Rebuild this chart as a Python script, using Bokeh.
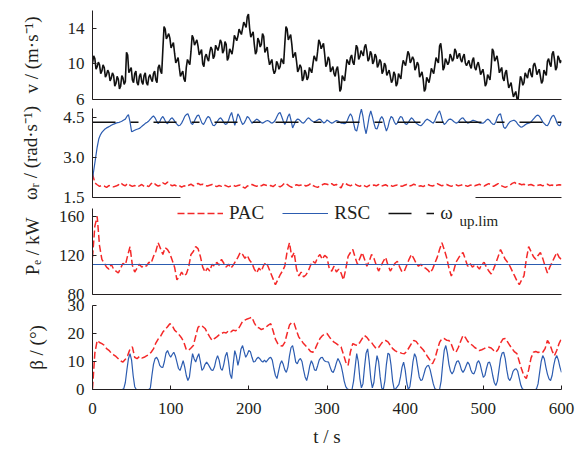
from bokeh.plotting import figure
from bokeh.models import Range1d, FixedTicker, LinearAxis, Legend, LegendItem, Label, NumeralTickFormatter
from bokeh.layouts import column
from bokeh.embed import file_html
from bokeh.resources import INLINE

# ---------------- data ----------------
# wind speed v (m/s), sampled every 1.5 s
v_wind = [
    10.1, 10.9, 10.6, 9.4, 9.7, 10.2, 9.9, 8.9, 9.2, 9.9, 9.6, 8.5, 8.8, 9.3, 9.0, 8.1, 8.4, 9.0, 8.7, 7.5,
    7.8, 8.6, 8.3, 7.2, 7.5, 8.7, 8.4, 7.7, 8.0, 11.3, 11.0, 9.0, 9.3, 9.6, 8.2, 7.9, 8.9, 9.2, 7.9, 7.6,
    8.6, 8.9, 8.0, 7.7, 8.7, 9.0, 7.9, 7.6, 8.5, 8.8, 8.3, 8.0, 8.9, 9.2, 8.2, 7.9, 9.6, 9.9, 9.2, 8.9,
    11.6, 14.2, 13.9, 12.8, 13.1, 13.4, 12.9, 11.8, 12.1, 12.4, 11.2, 10.1, 10.4, 10.7, 9.6, 8.6, 8.9, 9.2, 8.3, 8.0,
    9.6, 10.5, 10.2, 9.9, 11.4, 13.2, 12.9, 12.1, 12.4, 12.7, 12.0, 11.0, 11.3, 11.6, 10.0, 9.7, 10.8, 11.1, 10.6, 10.3,
    11.3, 11.9, 11.6, 10.6, 10.9, 12.1, 11.8, 11.5, 12.0, 12.7, 12.4, 11.2, 11.5, 12.5, 12.2, 10.4, 10.7, 11.7, 11.4, 11.1,
    12.0, 13.2, 12.9, 12.6, 13.1, 13.9, 13.6, 13.3, 14.0, 14.7, 14.4, 14.1, 15.3, 15.6, 14.0, 13.0, 13.3, 13.6, 12.2, 11.1,
    11.4, 12.9, 12.6, 11.9, 12.2, 13.4, 13.1, 11.3, 11.6, 11.9, 10.7, 9.9, 10.2, 10.5, 9.4, 8.9, 9.2, 10.3, 10.0, 9.4,
    9.7, 10.6, 10.3, 10.0, 12.2, 14.2, 13.9, 12.7, 13.0, 13.3, 12.2, 10.7, 11.0, 11.3, 10.3, 9.1, 9.4, 9.9, 9.6, 8.1,
    8.4, 9.3, 9.0, 8.2, 8.5, 9.6, 9.3, 9.0, 10.0, 10.9, 10.6, 10.3, 11.4, 12.7, 12.4, 11.7, 12.0, 12.3, 11.1, 9.7,
    10.0, 10.8, 10.5, 9.1, 9.4, 9.7, 8.9, 8.6, 9.4, 9.7, 8.6, 6.9, 7.2, 8.7, 8.4, 8.1, 9.3, 10.5, 10.2, 9.9,
    10.7, 11.0, 10.2, 9.9, 11.0, 12.1, 11.8, 10.5, 10.8, 11.5, 11.2, 10.9, 11.9, 12.2, 11.4, 10.3, 10.6, 11.4, 11.1, 10.0,
    10.3, 11.1, 10.8, 9.6, 9.9, 10.5, 10.2, 8.9, 9.2, 10.1, 9.8, 8.7, 9.0, 9.3, 8.6, 7.9, 8.2, 9.1, 8.8, 7.5,
    7.8, 8.9, 8.6, 8.3, 9.6, 10.4, 10.1, 9.8, 10.6, 11.4, 11.1, 10.1, 10.4, 10.8, 10.5, 9.3, 9.6, 10.2, 9.9, 8.5,
    8.8, 9.1, 8.3, 6.9, 7.2, 8.5, 8.2, 7.9, 8.6, 9.5, 9.2, 8.9, 9.8, 10.7, 10.4, 10.1, 12.0, 12.3, 11.2, 9.3,
    9.6, 10.6, 10.3, 9.9, 10.2, 11.1, 10.8, 10.3, 10.6, 11.7, 11.4, 10.6, 10.9, 11.2, 10.5, 10.2, 10.8, 11.1, 10.1, 9.8,
    10.1, 10.4, 9.8, 9.5, 10.4, 10.7, 9.6, 9.3, 9.9, 10.2, 9.6, 8.8, 9.1, 9.4, 8.6, 7.5, 7.8, 8.8, 8.5, 8.2,
    9.6, 11.7, 11.4, 10.3, 10.6, 10.9, 10.1, 9.0, 9.3, 9.6, 8.4, 8.1, 9.0, 9.3, 8.2, 7.3, 7.6, 7.9, 7.0, 6.3,
    6.6, 6.9, 6.1, 6.0, 7.4, 8.6, 8.3, 7.6, 7.9, 9.0, 8.7, 8.4, 9.2, 9.5, 8.8, 8.5, 9.8, 10.1, 9.6, 8.8,
    9.1, 9.4, 8.6, 7.8, 8.1, 9.3, 9.0, 8.7, 10.3, 10.6, 10.0, 9.7, 11.1, 11.4, 10.5, 9.3, 9.6, 10.9, 10.6, 10.1,
    10.4,
]
t_wind = [1.5 * i for i in range(len(v_wind))]

# rotor speed, PAC (every 3 s)
w_pac = [
    2.40, 2.05, 1.98, 1.92, 1.95, 1.93, 1.88, 1.95, 1.92, 1.90,
    1.93, 1.97, 2.05, 1.98, 1.94, 2.03, 1.96, 1.92, 1.95, 1.90,
    1.94, 1.99, 1.92, 1.95, 1.91, 2.02, 2.07, 1.98, 1.93, 1.96,
    2.05, 2.00, 2.08, 1.99, 1.94, 1.97, 1.92, 1.95, 1.89, 1.94,
    1.91, 1.96, 2.00, 1.94, 1.97, 2.03, 1.98, 2.00, 1.95, 1.93,
    1.96, 1.99, 1.94, 1.91, 1.95, 1.92, 1.97, 1.94, 1.90, 1.93,
    1.96, 1.92, 1.95, 1.97, 1.90, 1.85, 1.93, 1.96, 1.99, 1.95,
    1.92, 1.97, 1.94, 1.99, 1.96, 1.93, 1.95, 1.91, 1.98, 1.94,
    1.90, 1.96, 2.05, 1.99, 1.93, 1.88, 1.94, 1.98, 1.95, 1.97,
    1.99, 1.93, 1.96, 2.02, 1.95, 1.91, 1.88, 1.94, 1.98, 2.02,
    2.00, 1.97, 2.02, 1.96, 1.99, 1.93, 1.86, 2.05, 2.02, 1.97,
    1.94, 1.99, 2.00, 1.95, 1.92, 1.98, 1.94, 1.90, 1.96, 1.93,
    1.97, 1.94, 1.99, 1.92, 1.95, 1.98, 1.93, 1.96, 1.92, 1.95,
    1.97, 1.94, 1.92, 1.96, 1.99, 1.93, 1.95, 2.00, 1.96, 1.92,
    1.94, 1.91, 1.96, 1.99, 1.95, 1.93, 1.97, 2.02, 1.98, 1.94,
    1.97, 1.99, 1.95, 1.92, 1.96, 1.98, 1.94, 1.96, 1.99, 1.95,
    1.92, 1.96, 1.98, 1.94, 1.97, 2.00, 1.95, 1.93, 1.98, 2.02,
    1.96, 1.92, 1.97, 2.02, 1.96, 1.92, 1.88, 1.92, 1.96, 2.03,
    2.07, 1.99, 2.02, 1.98, 2.00, 1.95, 1.97, 1.99, 1.95, 1.93,
    1.96, 1.98, 1.94, 1.97, 2.00, 1.95, 1.97, 1.93, 1.96, 1.98,
    1.97,
]
t_w_pac = [3 * i for i in range(len(w_pac))]

# rotor speed, RSC (every 2 s)
w_rsc = [
    2.20, 2.60, 3.00, 3.40, 3.70, 3.85, 3.95, 4.02, 4.08, 4.12,
    4.15, 4.18, 4.22, 4.25, 4.27, 4.30, 4.32, 4.33, 4.35, 4.38,
    4.42, 4.45, 4.55, 4.62, 4.35, 3.98, 4.00, 4.03, 4.06, 4.08,
    4.10, 4.15, 4.20, 4.25, 4.30, 4.33, 4.38, 4.45, 4.52, 4.57,
    4.50, 4.38, 4.28, 4.35, 4.48, 4.55, 4.45, 4.32, 4.28, 4.38,
    4.46, 4.50, 4.42, 4.33, 4.26, 4.20, 4.22, 4.30, 4.42, 4.55,
    4.62, 4.65, 4.50, 4.30, 4.25, 4.35, 4.48, 4.58, 4.60, 4.45,
    4.30, 4.25, 4.35, 4.48, 4.55, 4.50, 4.35, 4.22, 4.20, 4.28,
    4.38, 4.46, 4.50, 4.42, 4.32, 4.25, 4.28, 4.40, 4.58, 4.70,
    4.45, 4.22, 4.40, 4.65, 4.55, 4.38, 4.25, 4.30, 4.42, 4.55,
    4.50, 4.40, 4.30, 4.33, 4.40, 4.45, 4.42, 4.36, 4.32, 4.30,
    4.34, 4.38, 4.40, 4.37, 4.32, 4.30, 4.34, 4.42, 4.55, 4.66,
    4.70, 4.55, 4.38, 4.25, 4.35, 4.55, 4.65, 4.40, 4.12, 4.25,
    4.38, 4.45, 4.44, 4.38, 4.32, 4.30, 4.36, 4.44, 4.50, 4.46,
    4.40, 4.36, 4.35, 4.38, 4.42, 4.45, 4.43, 4.36, 4.30, 4.34,
    4.42, 4.38, 4.33, 4.30, 4.32, 4.36, 4.40, 4.38, 4.34, 4.30,
    4.30, 4.28, 4.30, 4.40, 4.55, 4.65, 4.55, 4.30, 4.05, 4.00,
    4.25, 4.60, 4.83, 4.55, 4.15, 3.90, 4.20, 4.55, 4.76, 4.55,
    4.30, 4.10, 4.08, 4.25, 4.45, 4.55, 4.45, 4.20, 4.00, 4.15,
    4.40, 4.55, 4.50, 4.35, 4.25, 4.30, 4.45, 4.55, 4.52, 4.38,
    4.28, 4.25, 4.32, 4.42, 4.50, 4.45, 4.36, 4.30, 4.26, 4.22,
    4.20, 4.25, 4.32, 4.40, 4.45, 4.42, 4.38, 4.33, 4.30, 4.40,
    4.55, 4.68, 4.76, 4.58, 4.35, 4.25, 4.30, 4.38, 4.44, 4.45,
    4.42, 4.36, 4.32, 4.30, 4.34, 4.42, 4.48, 4.50, 4.42, 4.35,
    4.30, 4.32, 4.36, 4.40, 4.40, 4.38, 4.35, 4.32, 4.30, 4.30,
    4.30, 4.35, 4.42, 4.45, 4.40, 4.32, 4.26, 4.25, 4.35, 4.52,
    4.62, 4.65, 4.40, 4.15, 4.10, 4.18, 4.28, 4.35, 4.38, 4.40,
    4.40, 4.35, 4.26, 4.20, 4.15, 4.16, 4.20, 4.25, 4.28, 4.30,
    4.32, 4.38, 4.45, 4.52, 4.58, 4.60, 4.55, 4.45, 4.35, 4.28,
    4.22, 4.20, 4.30, 4.45, 4.56, 4.60, 4.48, 4.32, 4.22, 4.20,
    4.35,
]
t_w_rsc = [2 * i for i in range(len(w_rsc))]

# upper rotor-speed limit
t_lim = [0, 600]
w_lim = [4.33, 4.33]

# electrical power, PAC (every 3 s)
pe_pac = [
    118, 150, 160, 130, 116, 112, 108, 106, 111, 106,
    104, 102, 107, 112, 110, 120, 129, 110, 103, 107,
    111, 108, 110, 109, 113, 112, 119, 124, 133, 127,
    121, 128, 126, 122, 115, 108, 95, 98, 103, 99,
    101, 108, 121, 124, 129, 127, 119, 108, 103, 107,
    104, 111, 109, 113, 110, 116, 112, 108, 111, 107,
    110, 114, 118, 123, 121, 117, 120, 115, 112, 106,
    102, 107, 104, 110, 113, 108, 102, 96, 90, 95,
    100, 104, 109, 124, 133, 118, 123, 106, 99, 103,
    98, 100, 104, 110, 114, 112, 118, 121, 116, 120,
    118, 106, 104, 109, 103, 106, 102, 95, 106, 119,
    123, 126, 118, 111, 117, 123, 116, 109, 114, 121,
    117, 110, 104, 109, 114, 118, 110, 104, 108, 112,
    114, 108, 103, 104, 110, 116, 121, 117, 112, 109,
    111, 108, 107, 105, 102, 106, 112, 118, 126, 133,
    126, 118, 107, 99, 104, 113, 117, 121, 123, 116,
    109, 112, 108, 110, 109, 106, 111, 113, 108, 104,
    101, 106, 112, 119, 126, 121, 116, 113, 109, 104,
    99, 94, 90, 95, 99, 116, 129, 124, 119, 116,
    120, 123, 117, 109, 102, 108, 113, 118, 123, 118,
    116,
]
t_pe_pac = [3 * i for i in range(len(pe_pac))]

# electrical power, RSC (constant)
t_pe_rsc = [0, 600]
pe_rsc = [110.7, 110.7]

# pitch angle, PAC (every 3 s)
b_pac = [
    0.3, 13.0, 17.5, 16.8, 16.4, 15.8, 14.6, 14.0, 13.0, 12.4,
    11.8, 11.0, 10.2, 9.8, 10.8, 12.1, 14.5, 15.2, 11.5, 11.0,
    11.8, 11.2, 11.5, 12.0, 12.4, 13.3, 14.5, 16.6, 18.0, 19.0,
    20.5, 21.5, 22.4, 23.5, 22.8, 21.2, 20.4, 19.5, 18.4, 16.8,
    14.2, 14.0, 14.8, 15.7, 19.0, 22.2, 22.9, 22.5, 21.8, 20.2,
    18.8, 17.5, 18.2, 18.8, 19.5, 20.0, 20.4, 20.2, 21.0, 20.6,
    21.2, 21.0, 21.4, 22.8, 24.3, 24.8, 25.2, 25.5, 25.8, 23.8,
    22.3, 22.0, 21.4, 21.8, 22.3, 23.0, 23.5, 21.0, 18.0, 16.4,
    15.7, 15.5, 16.8, 20.0, 23.0, 24.0, 23.6, 21.0, 18.7, 17.6,
    16.4, 15.5, 14.6, 13.6, 13.3, 14.6, 16.5, 18.2, 19.2, 19.8,
    20.0, 18.8, 17.6, 16.9, 16.4, 15.7, 15.2, 12.6, 9.8, 8.6,
    13.5, 16.4, 16.0, 15.7, 16.8, 18.2, 19.3, 18.6, 17.5, 16.8,
    15.6, 14.6, 15.0, 16.2, 17.3, 17.5, 17.0, 15.8, 14.6, 13.9,
    13.4, 13.2, 12.9, 12.8, 13.6, 15.0, 16.4, 17.5, 17.2, 16.0,
    15.1, 14.2, 13.0, 11.6, 10.4, 9.2, 11.0, 14.0, 16.8, 18.2,
    18.2, 17.6, 17.5, 16.2, 14.0, 13.3, 15.0, 17.2, 19.3, 18.6,
    17.2, 16.4, 15.8, 15.0, 14.5, 13.9, 14.2, 14.6, 15.0, 15.1,
    14.8, 14.0, 13.3, 14.4, 16.6, 18.0, 18.2, 17.0, 15.7, 14.5,
    13.4, 12.8, 10.0, 7.2, 4.8, 3.9, 7.0, 11.2, 13.3, 13.6,
    13.2, 13.5, 13.3, 14.6, 17.5, 16.2, 13.8, 12.1, 14.0, 16.5,
    18.2,
]
t_b_pac = [3 * i for i in range(len(b_pac))]

# pitch angle, RSC (every 2 s)
b_rsc = [
    0, 0, 0, 0, 0, 0, 0, 0, 0, 0,
    0, 0, 0, 0, 0, 0, 0, 0, 0, 0,
    0.3, 2.5, 7.0, 11.0, 12.8, 10.5, 5.0, 1.0, 0, 0,
    0, 0, 0, 0, 0, 0, 0, 0.5, 5.0, 9.0,
    11.0, 11.5, 10.5, 8.6, 8.0, 7.9, 10.0, 13.0, 13.9, 12.5,
    11.5, 12.5, 13.3, 12.0, 9.8, 7.5, 6.8, 8.5, 10.3, 8.0,
    5.0, 3.2, 4.5, 9.0, 12.8, 11.0, 9.8, 11.5, 12.8, 10.0,
    6.8, 7.5, 9.0, 9.8, 9.0, 8.0, 7.0, 6.8, 8.0, 10.5,
    12.1, 10.5, 7.5, 6.8, 9.0, 12.0, 13.3, 10.0, 5.5, 3.9,
    9.0, 13.9, 12.0, 8.6, 11.0, 14.5, 15.7, 13.5, 11.5, 12.5,
    13.9, 13.5, 11.5, 9.8, 10.0, 11.0, 11.5, 11.0, 10.2, 9.8,
    10.5, 9.8, 10.5, 11.2, 11.5, 10.5, 7.5, 5.0, 3.9, 6.5,
    9.0, 10.3, 9.0, 7.0, 6.1, 8.0, 12.0, 15.0, 15.7, 13.0,
    9.8, 9.2, 10.5, 11.1, 10.0, 7.0, 4.5, 3.2, 5.5, 8.5,
    10.3, 9.0, 7.0, 6.8, 8.5, 10.5, 11.3, 11.5, 10.5, 10.0,
    9.9, 9.8, 8.0, 6.5, 6.1, 7.5, 9.5, 11.1, 10.0, 8.6,
    6.0, 3.0, 1.0, 0.2, 0, 0, 0, 3.0, 8.0, 12.8,
    10.0, 4.0, 0.6, 2.0, 8.0, 13.0, 14.5, 10.0, 4.0, 0.6,
    2.5, 8.0, 12.1, 10.0, 4.5, 0.5, 0, 3.0, 9.0, 13.0,
    12.5, 8.5, 3.0, 0, 0.3, 1.0, 1.8, 4.5, 8.0, 9.8,
    7.0, 2.5, 0, 1.0, 5.0, 10.0, 12.8, 11.5, 8.0, 4.5,
    3.2, 3.5, 5.5, 7.5, 8.4, 8.6, 7.0, 4.5, 2.0, 0.3,
    0, 0, 0, 3.0, 9.0, 14.0, 15.7, 13.0, 9.0, 6.5,
    5.6, 6.5, 8.5, 10.0, 10.3, 9.0, 7.0, 6.1, 7.0, 8.5,
    9.8, 9.0, 7.0, 5.8, 5.6, 7.0, 9.5, 10.3, 9.0, 6.5,
    4.3, 5.0, 7.5, 9.5, 9.8, 8.0, 5.0, 2.5, 1.4, 3.0,
    7.0, 11.0, 13.0, 13.3, 11.0, 7.0, 4.0, 3.2, 4.5, 6.5,
    7.2, 7.4, 6.5, 4.0, 1.5, 0.2, 0, 0, 0, 0,
    0, 0, 0, 0, 0.2, 2.0, 6.0, 10.0, 12.1, 11.0,
    8.0, 5.5, 3.8, 3.2, 5.0, 8.5, 11.0, 12.1, 10.5, 8.0,
    6.1,
]
t_b_rsc = [2 * i for i in range(len(b_rsc))]

x_ticks = [0, 100, 200, 300, 400, 500, 600]
v_ticks = [6, 10, 14]
w_ticks = [1.5, 3.0, 4.5]
pe_ticks = [80, 120, 160]
b_ticks = [0, 10, 20, 30]

# ---------------- styling ----------------
RED = "#f42828"
BLUE = "#2c5cb0"
BLACK = "#111111"
AXC = "#231f20"
FONT = "Liberation Serif"
W = 580
LEFT = 92
RIGHT = 19


def style_y(p, ticks, label, standoff):
    ax = p.yaxis[0]
    ax.ticker = FixedTicker(ticks=ticks)
    ax.major_tick_in = 4
    ax.major_tick_out = 0
    ax.minor_tick_line_color = None
    ax.axis_line_color = AXC
    ax.major_tick_line_color = AXC
    ax.major_label_text_font = FONT
    ax.major_label_text_font_size = "17px"
    ax.major_label_text_color = AXC
    ax.major_label_standoff = 8
    ax.axis_label = label
    ax.axis_label_text_font = FONT
    ax.axis_label_text_font_size = "19px"
    ax.axis_label_text_font_style = "normal"
    ax.axis_label_text_color = AXC
    ax.axis_label_standoff = standoff


def plain_x(ax):
    ax.ticker = FixedTicker(ticks=[])
    ax.minor_tick_line_color = None
    ax.major_tick_out = 0
    ax.major_tick_in = 0
    ax.major_label_standoff = 0
    ax.axis_line_color = AXC


def make_fig(h, top, bottom, yr, shift):
    p = figure(width=W, height=h, output_backend="svg", toolbar_location=None,
               title=None, x_range=Range1d(0, 600), y_range=Range1d(*yr),
               min_border_left=LEFT, min_border_right=RIGHT,
               min_border_top=top, min_border_bottom=bottom,
               margin=(shift, 0, 0, 0))
    p.xgrid.visible = False
    p.ygrid.visible = False
    p.outline_line_color = None
    p.background_fill_alpha = 0
    p.border_fill_alpha = 0
    return p


# panel 1: wind speed  (frame 10..99)
p1 = make_fig(113, 10, 14, (6, 16), 0)
p1.line(t_wind, v_wind, line_color=BLACK, line_width=1.6)
style_y(p1, v_ticks, "v / (m·s⁻¹)", 23)
plain_x(p1.xaxis[0])

# panel 2: rotor speed  (frame 108..197)
p2 = make_fig(117, 14, 14, (1.5, 4.85), -19)
p2.line(t_w_pac, w_pac, line_color=RED, line_width=1.5, line_dash="7 3")
p2.line(t_w_rsc, w_rsc, line_color=BLUE, line_width=1.2)
p2.line(t_lim, w_lim, line_color=BLACK, line_width=1.5, line_dash="23 15 8 15")
style_y(p2, w_ticks, "ωᵣ / (rad·s⁻¹)", 19)
p2.yaxis[0].formatter = NumeralTickFormatter(format="0.0")
plain_x(p2.xaxis[0])
p2.xaxis[0].bounds = (0, 112)
ax2b = LinearAxis()
plain_x(ax2b)
ax2b.bounds = (490, 600)
p2.add_layout(ax2b, "below")

# panel 3: electrical power  (axis 208..294, frame extended up to 198 for the legend)
p3 = make_fig(124, 14, 14, (80, 178.3), -27)
r_pac = p3.line(t_pe_pac, pe_pac, line_color=RED, line_width=1.5, line_dash="7 3")
r_rsc = p3.line(t_pe_rsc, pe_rsc, line_color=BLUE, line_width=1.2)
r_lim = p3.line(t_lim, w_lim, line_color=BLACK, line_width=1.5, line_dash="23 15 8 15")
style_y(p3, pe_ticks, "Pₑ / kW", 13)
p3.yaxis[0].bounds = (80, 168)
plain_x(p3.xaxis[0])
legend = Legend(items=[LegendItem(label="PAC", renderers=[r_pac]),
                       LegendItem(label="RSC", renderers=[r_rsc]),
                       LegendItem(label="ω", renderers=[r_lim])],
                orientation="horizontal", location=(85, 70),
                label_text_font=FONT, label_text_font_size="19px",
                label_text_color=AXC, glyph_width=46, glyph_height=16,
                label_height=16, label_standoff=6, spacing=18, padding=2,
                margin=0, border_line_color=None, background_fill_alpha=1.0)
p3.add_layout(legend)
p3.add_layout(Label(x=367, y=74, x_units="screen", y_units="screen", text="up.lim",
                    text_font=FONT, text_font_size="15px", text_color=AXC,
                    text_baseline="middle"))

# panel 4: pitch angle  (frame 305..389)
p4 = make_fig(159, 14, 61, (0, 30), -17)
p4.line(t_b_pac, b_pac, line_color=RED, line_width=1.5, line_dash="7 3")
p4.line(t_b_rsc, b_rsc, line_color=BLUE, line_width=1.2)
style_y(p4, b_ticks, "β / (°)", 18)
ax4 = p4.xaxis[0]
ax4.ticker = FixedTicker(ticks=x_ticks)
ax4.minor_tick_line_color = None
ax4.major_tick_in = 4
ax4.major_tick_out = 0
ax4.axis_line_color = AXC
ax4.major_tick_line_color = AXC
ax4.major_label_text_font = FONT
ax4.major_label_text_font_size = "17px"
ax4.major_label_text_color = AXC
ax4.major_label_standoff = 13
ax4.axis_label = "t / s"
ax4.axis_label_text_font = FONT
ax4.axis_label_text_font_size = "19px"
ax4.axis_label_text_font_style = "normal"
ax4.axis_label_text_color = AXC
ax4.axis_label_standoff = 9

layout = column(p1, p2, p3, p4, spacing=0)
open("out.html", "w").write(file_html(layout, INLINE))
